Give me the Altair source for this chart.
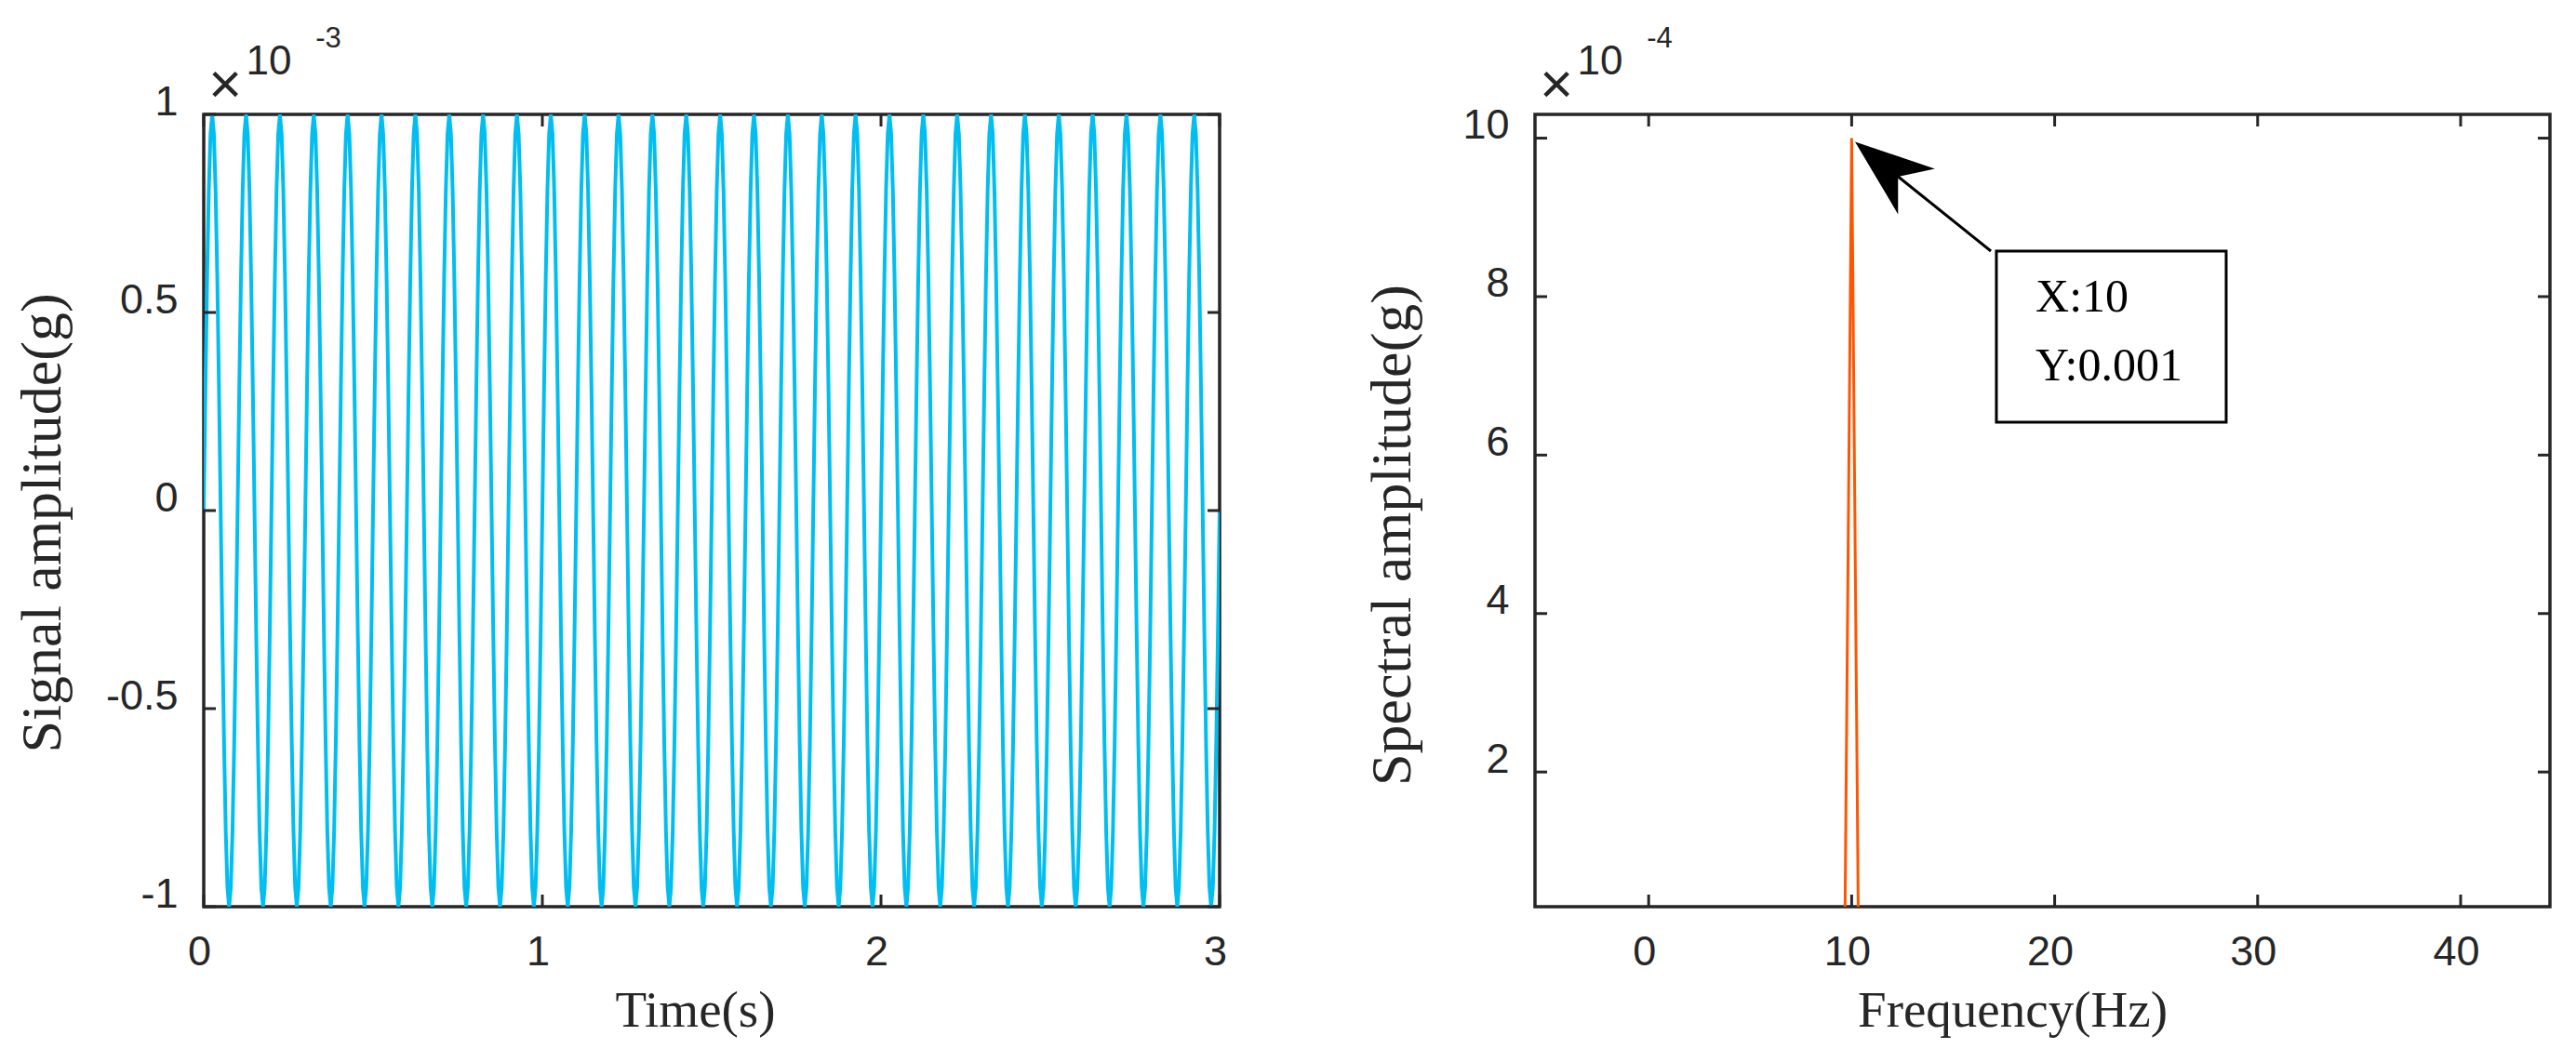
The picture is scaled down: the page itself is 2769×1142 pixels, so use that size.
import altair as alt
import pandas as pd

# ---------------- data ----------------
# left panel: one cycle of the 10 Hz signal (x 1e-3 g), sampled every 5 ms, 30 cycles in 3 s
SIGNAL_CYCLE_MG = [0.0, 0.309, 0.588, 0.809, 0.951, 1.0, 0.951, 0.809, 0.588, 0.309,
                   0.0, -0.309, -0.588, -0.809, -0.951, -1.0, -0.951, -0.809, -0.588, -0.309]
SAMPLE_STEP_S = 0.005
N_CYCLES = 30

# right panel: amplitude spectrum (g); zero everywhere except the 10 Hz bin
FREQ_HZ = [0.0, 9.667, 10.0, 10.333, 50.0]
SPEC_G = [0.0, 0.0, 0.001, 0.0, 0.0]

# tick values
TIME_TICKS = [0, 1, 2, 3]
SIG_TICKS = [-0.001, -0.0005, 0.0, 0.0005, 0.001]
FREQ_TICKS = [0, 10, 20, 30, 40]
SPEC_TICKS = [0.0002, 0.0004, 0.0006, 0.0008, 0.001]

# annotation (data coordinates of the right panel)
ARROW_TAIL = [16.86, 0.0008575]
ARROW_HEAD_CENTER = [11.68, 0.000964]
BOX_X = [17.13, 28.45]
BOX_Y = [0.0006415, 0.0008575]
LABEL_TEXT = ["X:10", "Y:0.001"]
LABEL_X = [19.06, 19.06]
LABEL_Y = [0.000781, 0.000694]

# ---------------- build tables ----------------
sig_vals = []
for _ in range(N_CYCLES):
    sig_vals += SIGNAL_CYCLE_MG
sig_vals.append(0.0)
sig_df = pd.DataFrame({
    "t": [i * SAMPLE_STEP_S for i in range(len(sig_vals))],
    "a": [v * 1e-3 for v in sig_vals],
})
spec_df = pd.DataFrame({"f": FREQ_HZ, "a": SPEC_G})

INK = "#262626"
W1, W2, H = 1092, 1091, 852
TL = 13  # inward tick length

xs1 = alt.Scale(domain=[0, 3], nice=False, zero=False)
ys1 = alt.Scale(domain=[-0.001, 0.001], nice=False, zero=False)
xs2 = alt.Scale(domain=[-5.6, 44.4], nice=False, zero=False)
ys2 = alt.Scale(domain=[0.00003, 0.00103], nice=False, zero=False)

def xaxis(title, values, title_x):
    return alt.Axis(title=title, values=values, ticks=False, tickSize=0, domain=False,
                    grid=False, labelFont="Liberation Sans", labelFontSize=45,
                    labelColor=INK, labelPadding=26, labelOffset=-5, labelFlush=False,
                    labelOverlap=False,
                    titleFont="Liberation Serif", titleFontSize=55, titleFontWeight="normal",
                    titleColor=INK, titlePadding=14, titleX=title_x, titleAlign="center")

def yaxis(title, values, expr, title_y, tpad):
    return alt.Axis(title=title, values=values, ticks=False, tickSize=0, domain=False,
                    grid=False, labelFont="Liberation Sans", labelFontSize=45,
                    labelColor=INK, labelPadding=28, labelBaseline="alphabetic",
                    labelOverlap=False, labelExpr=expr,
                    titleFont="Liberation Serif", titleFontSize=62, titleFontWeight="normal",
                    titleColor=INK, titlePadding=tpad, titleY=title_y, titleAlign="center")

ax1x = xaxis("Time(s)", TIME_TICKS, 528)
ax1y = yaxis("Signal amplitude(g)", SIG_TICKS,
             "replace(format(datum.value*1000, '~g'), '\u2212', '-')", 439, 36)
ax2x = xaxis("Frequency(Hz)", FREQ_TICKS, 513)
ax2y = yaxis("Spectral amplitude(g)", SPEC_TICKS, "format(datum.value*10000, '~g')", 452, 43)

def tick_layers(xvals, yvals, xs, ys, axx, axy, w):
    xdf = pd.DataFrame({"v": xvals})
    ydf = pd.DataFrame({"v": yvals})
    rule = dict(color=INK, strokeWidth=3)
    bot = alt.Chart(xdf).mark_rule(**rule).encode(
        x=alt.X("v:Q", scale=xs, axis=axx), y=alt.value(H), y2=alt.value(H - TL))
    top = alt.Chart(xdf).mark_rule(**rule).encode(
        x=alt.X("v:Q", scale=xs, axis=axx), y=alt.value(0), y2=alt.value(TL))
    lef = alt.Chart(ydf).mark_rule(**rule).encode(
        y=alt.Y("v:Q", scale=ys, axis=axy), x=alt.value(0), x2=alt.value(TL))
    rig = alt.Chart(ydf).mark_rule(**rule).encode(
        y=alt.Y("v:Q", scale=ys, axis=axy), x=alt.value(w), x2=alt.value(w - TL))
    return [bot, top, lef, rig]

def exponent(power):
    parts = [("×", 23, -31, 62), ("10", 70, -56, 44), (power, 134, -81, 31)]
    out = []
    for txt, px, py, fs in parts:
        out.append(alt.Chart(pd.DataFrame({"s": [txt]})).mark_text(
            font="Liberation Sans", fontSize=fs, color=INK, align="center",
            baseline="middle").encode(x=alt.value(px), y=alt.value(py), text="s:N"))
    return out

# ---------------- left panel ----------------
sig_line = alt.Chart(sig_df).mark_line(color="#00BEF0", strokeWidth=4, clip=True).encode(
    x=alt.X("t:Q", scale=xs1, axis=ax1x),
    y=alt.Y("a:Q", scale=ys1, axis=ax1y),
)
left = alt.layer(sig_line, *tick_layers(TIME_TICKS, SIG_TICKS, xs1, ys1, ax1x, ax1y, W1),
                 *exponent("-3")).properties(width=W1, height=H)

# ---------------- right panel ----------------
spec_line = alt.Chart(spec_df).mark_line(color="#FF5500", strokeWidth=3, clip=True).encode(
    x=alt.X("f:Q", scale=xs2, axis=ax2x),
    y=alt.Y("a:Q", scale=ys2, axis=ax2y),
)
box = alt.Chart(pd.DataFrame({"x0": [BOX_X[0]], "x1": [BOX_X[1]],
                              "y0": [BOX_Y[0]], "y1": [BOX_Y[1]]})).mark_rect(
    fill="white", stroke="black", strokeWidth=3).encode(
    x=alt.X("x0:Q", scale=xs2, axis=ax2x), x2="x1:Q",
    y=alt.Y("y0:Q", scale=ys2, axis=ax2y), y2="y1:Q")
labels = alt.Chart(pd.DataFrame({"x": LABEL_X, "y": LABEL_Y, "s": LABEL_TEXT})).mark_text(
    font="Liberation Serif", fontSize=50, color="black", align="left",
    baseline="alphabetic").encode(
    x=alt.X("x:Q", scale=xs2, axis=ax2x), y=alt.Y("y:Q", scale=ys2, axis=ax2y), text="s:N")
shaft = alt.Chart(pd.DataFrame({"x": [ARROW_TAIL[0]], "y": [ARROW_TAIL[1]],
                                "x2": [ARROW_HEAD_CENTER[0]], "y2": [ARROW_HEAD_CENTER[1]]})).mark_rule(
    color="black", strokeWidth=3).encode(
    x=alt.X("x:Q", scale=xs2, axis=ax2x), y=alt.Y("y:Q", scale=ys2, axis=ax2y),
    x2="x2:Q", y2="y2:Q")
head = alt.Chart(pd.DataFrame({"x": [ARROW_HEAD_CENTER[0]], "y": [ARROW_HEAD_CENTER[1]]})).mark_point(
    shape="M0,-1 L0.74,1 L0,0.4 L-0.74,1 Z", size=7225, angle=309, filled=True,
    color="black", opacity=1, strokeWidth=0).encode(
    x=alt.X("x:Q", scale=xs2, axis=ax2x), y=alt.Y("y:Q", scale=ys2, axis=ax2y))

right = alt.layer(spec_line, *tick_layers(FREQ_TICKS, SPEC_TICKS, xs2, ys2, ax2x, ax2y, W2),
                  *exponent("-4"), shaft, head, box, labels).properties(width=W2, height=H)

chart = alt.hconcat(left, right, spacing=143).properties(
    padding={"left": 4, "top": 16, "right": 5, "bottom": 5},
    background="white",
).configure_view(stroke=INK, strokeWidth=3.5)

chart.save("out.html", embed_options={"renderer": "svg", "actions": False})
